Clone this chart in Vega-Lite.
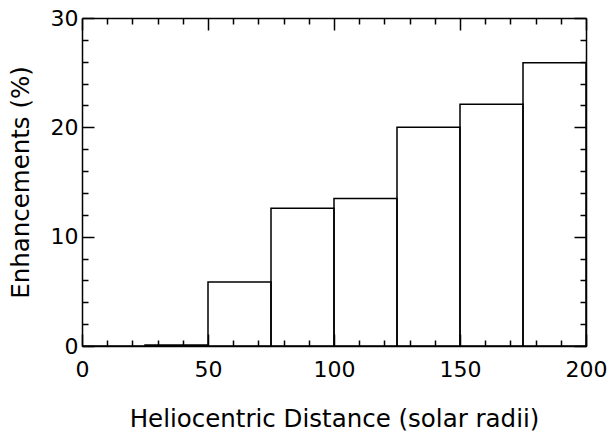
{
  "$schema": "https://vega.github.io/schema/vega-lite/v6.json",
  "width": 504,
  "height": 328,
  "autosize": "none",
  "padding": {"left": 82, "top": 18, "right": 24, "bottom": 85},
  "background": "white",
  "config": {
    "view": {"stroke": null},
    "axis": {
      "domainColor": "black",
      "domainWidth": 1.5,
      "tickColor": "black",
      "tickWidth": 1.5,
      "labelFont": "DejaVu Sans",
      "titleFont": "DejaVu Sans",
      "labelFontSize": 22,
      "titleFontSize": 24.5,
      "titleFontWeight": "normal",
      "labelColor": "black",
      "titleColor": "black",
      "grid": false,
      "labelOverlap": false,
      "labelFlush": false
    }
  },
  "data": {
    "values": [
      {"start": 0, "end": 25, "value": 0},
      {"start": 25, "end": 50, "value": 0.1},
      {"start": 50, "end": 75, "value": 5.85},
      {"start": 75, "end": 100, "value": 12.6},
      {"start": 100, "end": 125, "value": 13.5},
      {"start": 125, "end": 150, "value": 20.0},
      {"start": 150, "end": 175, "value": 22.1},
      {"start": 175, "end": 200, "value": 25.9}
    ]
  },
  "layer": [
    {
      "mark": {"type": "rect", "fill": null, "stroke": "black", "strokeWidth": 1.5},
      "encoding": {
        "x": {
          "field": "start", "type": "quantitative",
          "scale": {"domain": [0, 200], "nice": false, "zero": false},
          "axis": {
            "orient": "bottom",
            "values": [0,10,20,30,40,50,60,70,80,90,100,110,120,130,140,150,160,170,180,190,200],
            "labelExpr": "datum.value % 50 === 0 ? datum.label : ''",
            "tickSize": {"condition": {"test": "datum.value % 50 === 0", "value": -12}, "value": -6},
            "labelPadding": 25,
            "title": "Heliocentric Distance (solar radii)",
            "titlePadding": 21
          }
        },
        "x2": {"field": "end"},
        "y": {
          "field": "value", "type": "quantitative",
          "scale": {"domain": [0, 30], "nice": false},
          "axis": {
            "orient": "left",
            "values": [0,2,4,6,8,10,12,14,16,18,20,22,24,26,28,30],
            "labelExpr": "datum.value % 10 === 0 ? datum.label : ''",
            "tickSize": {"condition": {"test": "datum.value % 10 === 0", "value": -12}, "value": -6},
            "labelPadding": 16,
            "title": "Enhancements (%)",
            "titlePadding": 17
          }
        },
        "y2": {"datum": 0}
      }
    },
    {
      "mark": {"type": "rect", "fill": null, "strokeOpacity": 0},
      "encoding": {
        "x": {
          "field": "start", "type": "quantitative",
          "axis": {
            "orient": "top",
            "values": [0,10,20,30,40,50,60,70,80,90,100,110,120,130,140,150,160,170,180,190,200],
            "labels": false,
            "tickSize": {"condition": {"test": "datum.value % 50 === 0", "value": -12}, "value": -6},
            "title": null
          }
        },
        "x2": {"field": "end"},
        "y": {
          "field": "value", "type": "quantitative",
          "axis": {
            "orient": "right",
            "values": [0,2,4,6,8,10,12,14,16,18,20,22,24,26,28,30],
            "labels": false,
            "tickSize": {"condition": {"test": "datum.value % 10 === 0", "value": -12}, "value": -6},
            "title": null
          }
        },
        "y2": {"datum": 0}
      }
    }
  ],
  "resolve": {"axis": {"x": "independent", "y": "independent"}}
}
